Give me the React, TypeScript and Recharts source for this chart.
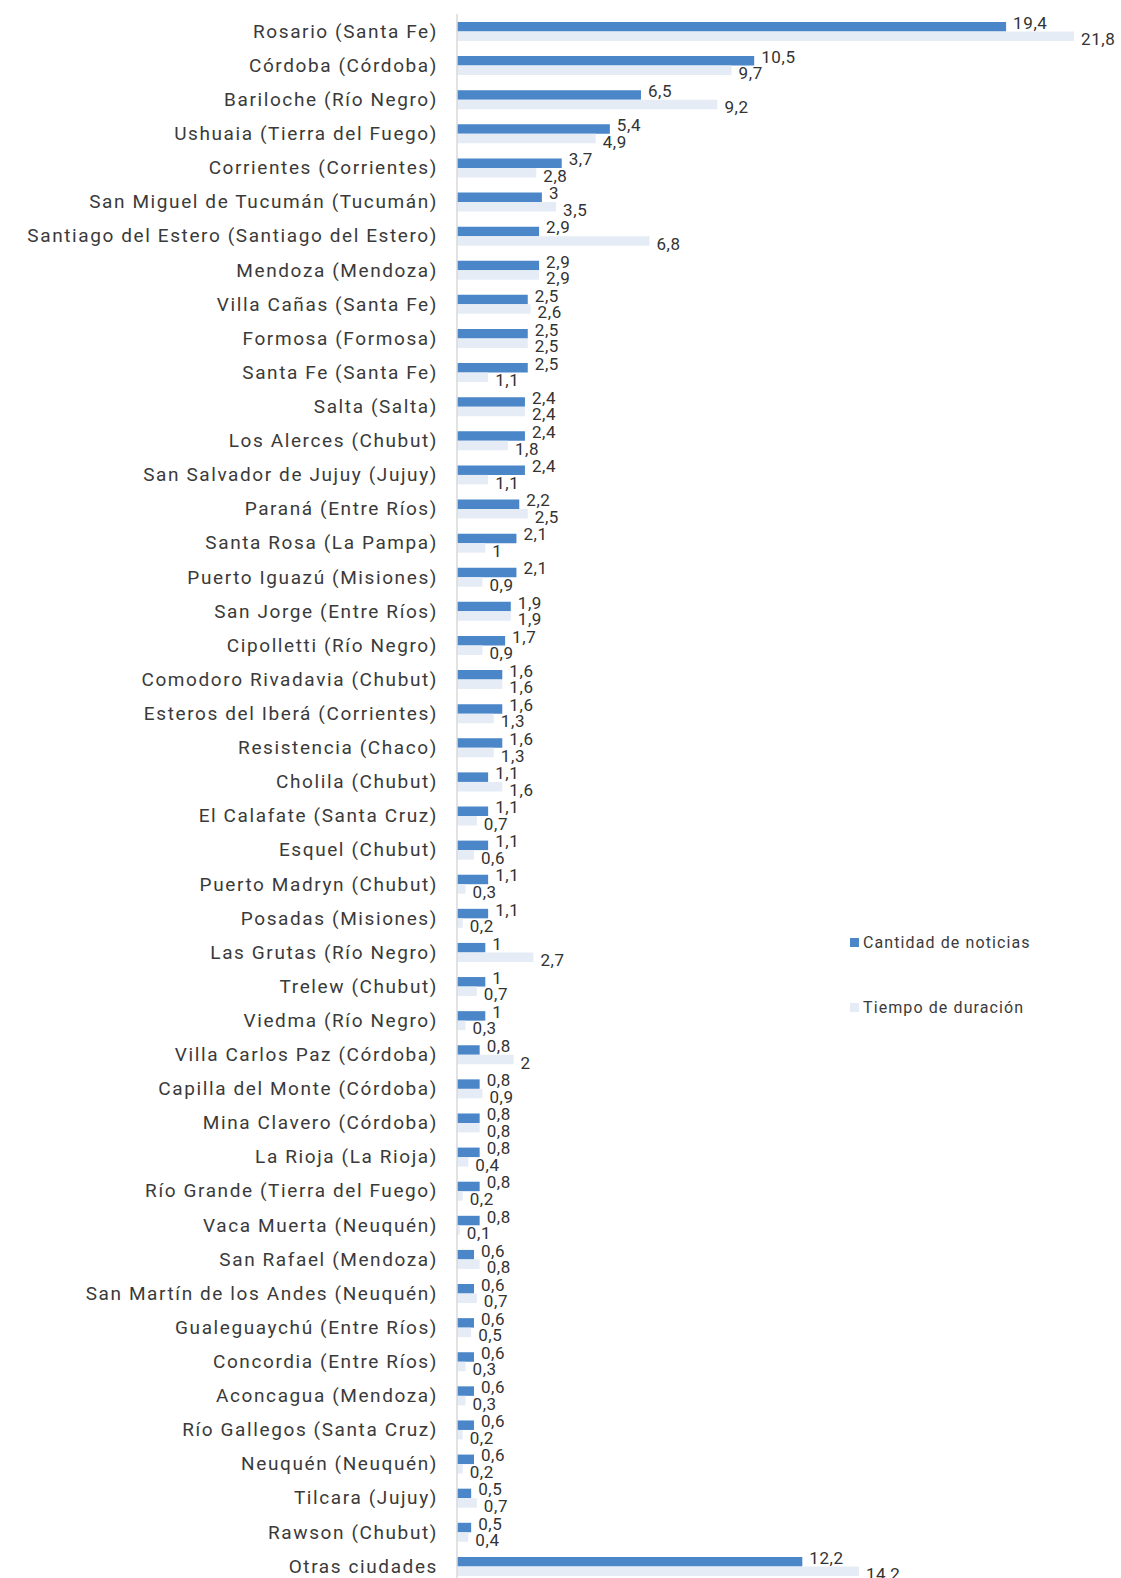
import { BarChart, Bar, XAxis, YAxis, LabelList } from "recharts";

// Cities (top to bottom as in the reference)
const cities = [
  "Rosario (Santa Fe)",
  "Córdoba (Córdoba)",
  "Bariloche (Río Negro)",
  "Ushuaia (Tierra del Fuego)",
  "Corrientes (Corrientes)",
  "San Miguel de Tucumán (Tucumán)",
  "Santiago del Estero (Santiago del Estero)",
  "Mendoza (Mendoza)",
  "Villa Cañas (Santa Fe)",
  "Formosa (Formosa)",
  "Santa Fe (Santa Fe)",
  "Salta (Salta)",
  "Los Alerces (Chubut)",
  "San Salvador de Jujuy (Jujuy)",
  "Paraná (Entre Ríos)",
  "Santa Rosa (La Pampa)",
  "Puerto Iguazú (Misiones)",
  "San Jorge (Entre Ríos)",
  "Cipolletti (Río Negro)",
  "Comodoro Rivadavia (Chubut)",
  "Esteros del Iberá (Corrientes)",
  "Resistencia (Chaco)",
  "Cholila (Chubut)",
  "El Calafate (Santa Cruz)",
  "Esquel (Chubut)",
  "Puerto Madryn (Chubut)",
  "Posadas (Misiones)",
  "Las Grutas (Río Negro)",
  "Trelew (Chubut)",
  "Viedma (Río Negro)",
  "Villa Carlos Paz (Córdoba)",
  "Capilla del Monte (Córdoba)",
  "Mina Clavero (Córdoba)",
  "La Rioja (La Rioja)",
  "Río Grande (Tierra del Fuego)",
  "Vaca Muerta (Neuquén)",
  "San Rafael (Mendoza)",
  "San Martín de los Andes (Neuquén)",
  "Gualeguaychú (Entre Ríos)",
  "Concordia (Entre Ríos)",
  "Aconcagua (Mendoza)",
  "Río Gallegos (Santa Cruz)",
  "Neuquén (Neuquén)",
  "Tilcara (Jujuy)",
  "Rawson (Chubut)",
  "Otras ciudades",
];

// Cantidad de noticias (%)
const noticias = [
  19.4, 10.5, 6.5, 5.4, 3.7, 3, 2.9, 2.9, 2.5, 2.5, 2.5, 2.4, 2.4, 2.4, 2.2,
  2.1, 2.1, 1.9, 1.7, 1.6, 1.6, 1.6, 1.1, 1.1, 1.1, 1.1, 1.1, 1, 1, 1, 0.8,
  0.8, 0.8, 0.8, 0.8, 0.8, 0.6, 0.6, 0.6, 0.6, 0.6, 0.6, 0.6, 0.5, 0.5, 12.2,
];

// Tiempo de duración (%)
const tiempo = [
  21.8, 9.7, 9.2, 4.9, 2.8, 3.5, 6.8, 2.9, 2.6, 2.5, 1.1, 2.4, 1.8, 1.1, 2.5,
  1, 0.9, 1.9, 0.9, 1.6, 1.3, 1.3, 1.6, 0.7, 0.6, 0.3, 0.2, 2.7, 0.7, 0.3, 2,
  0.9, 0.8, 0.4, 0.2, 0.1, 0.8, 0.7, 0.5, 0.3, 0.3, 0.2, 0.2, 0.7, 0.4, 14.2,
];

const seriesNames = ["Cantidad de noticias", "Tiempo de duración"];

const BLUE = "#4a86c8";
const LIGHT = "#e5ecf6";
const FONT = "Roboto, 'Noto Sans', sans-serif";

if (typeof document !== "undefined") {
  document.body.style.margin = "0";
}

const data = cities.map((city, i) => ({
  city,
  noticias: noticias[i],
  tiempo: tiempo[i],
}));

const fmt = (v: any) => String(v).replace(".", ",");

const makeLabel = (dy: number) => (props: any) => {
  const { x, y, width, height, value } = props;
  return (
    <text
      x={Number(x) + Number(width) + 7}
      y={Number(y) + Number(height) / 2 + dy}
      fontSize={17}
      fontFamily={FONT}
      letterSpacing={0.6}
      fill="#333"
      dominantBaseline="central"
    >
      {fmt(value)}
    </text>
  );
};

export default function App() {
  return (
    <div style={{ position: "relative", width: 1121, height: 1578, overflow: "hidden", background: "#fff" }}>
      <BarChart
        width={1121}
        height={1583}
        data={data}
        layout="vertical"
        margin={{ top: 14, right: 13, bottom: 0, left: 0 }}
        barGap={0}
        barSize={9.5}
      >
        <XAxis type="number" domain={[0, 23]} hide />
        <YAxis
          type="category"
          dataKey="city"
          width={457}
          axisLine={{ stroke: "#d9d9d9", strokeWidth: 1.5 }}
          tickLine={false}
          tickSize={0}
          tickMargin={19}
          interval={0}
          tick={{ fontSize: 19, fontFamily: FONT, fill: "#3a3a3a", letterSpacing: 1.6 }}
        />
        <Bar dataKey="noticias" name={seriesNames[0]} fill={BLUE} isAnimationActive={false}>
          <LabelList dataKey="noticias" content={makeLabel(-4)} />
        </Bar>
        <Bar dataKey="tiempo" name={seriesNames[1]} fill={LIGHT} isAnimationActive={false}>
          <LabelList dataKey="tiempo" content={makeLabel(3)} />
        </Bar>
      </BarChart>
      <div
        style={{
          position: "absolute",
          left: 850,
          top: 928,
          fontFamily: FONT,
          fontSize: 16,
          letterSpacing: 1.1,
          color: "#3a3a3a",
        }}
      >
        {seriesNames.map((name, i) => (
          <div
            key={name}
            style={{ display: "flex", alignItems: "center", height: 28, marginBottom: i === 0 ? 37 : 0 }}
          >
            <span
              style={{
                display: "inline-block",
                width: 9,
                height: 9,
                background: i === 0 ? BLUE : LIGHT,
                marginRight: 4,
              }}
            />
            {name}
          </div>
        ))}
      </div>
    </div>
  );
}
